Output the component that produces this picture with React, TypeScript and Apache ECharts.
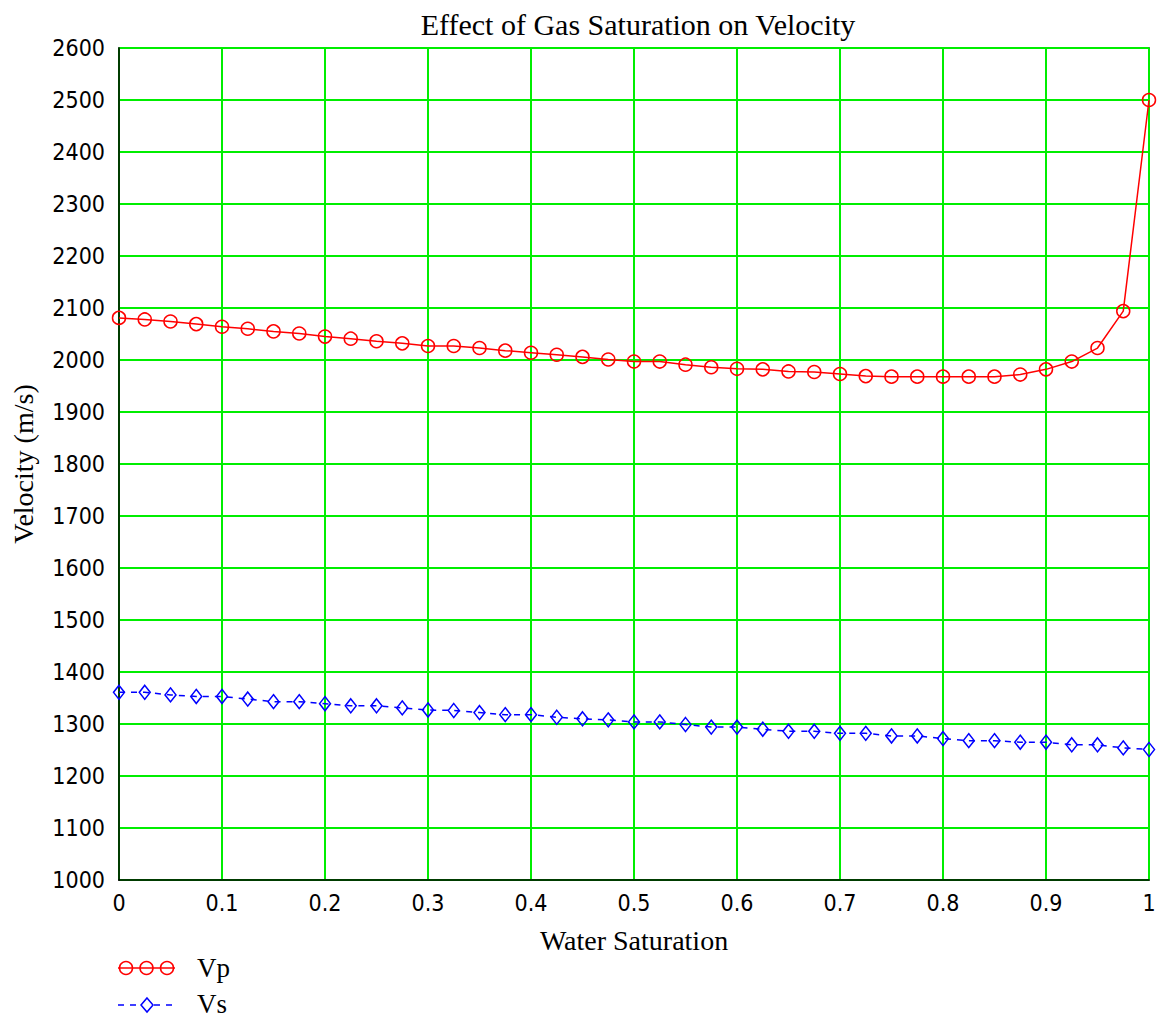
import React, { useEffect, useRef } from "react";
import * as echarts from "echarts";

const waterSat = [
  0, 0.025, 0.05, 0.075, 0.1, 0.125, 0.15, 0.175, 0.2, 0.225, 0.25, 0.275, 0.3, 0.325,
  0.35, 0.375, 0.4, 0.425, 0.45, 0.475, 0.5, 0.525, 0.55, 0.575, 0.6, 0.625, 0.65, 0.675,
  0.7, 0.725, 0.75, 0.775, 0.8, 0.825, 0.85, 0.875, 0.9, 0.925, 0.95, 0.975, 1,
];

const vp = [
  2081, 2078, 2074, 2069, 2064, 2060, 2055, 2051, 2045, 2041, 2036, 2032, 2027, 2027,
  2023, 2018, 2014, 2010, 2006, 2001, 1997, 1997, 1991, 1986, 1983, 1982, 1978, 1977,
  1973, 1969, 1968, 1968, 1968, 1968, 1968, 1972, 1982, 1997, 2023, 2094, 2500,
];

const vs = [
  1361, 1361, 1356, 1353, 1353, 1348, 1343, 1343, 1339, 1335, 1335, 1331, 1327, 1326,
  1322, 1318, 1318, 1313, 1310, 1308, 1304, 1304, 1299, 1294, 1294, 1290, 1286, 1286,
  1282, 1282, 1277, 1277, 1272, 1268, 1268, 1265, 1265, 1260, 1260, 1254, 1251,
];

const seriesNames = ["Vp", "Vs"];
const titleText = "Effect of Gas Saturation on Velocity";
const xName = "Water Saturation";
const yName = "Velocity (m/s)";

const SERIF = "'Liberation Serif', 'DejaVu Serif', serif";
const TICKFONT = "'DejaVu Sans Condensed', 'DejaVu Sans', sans-serif";
const RED = "#ff0000";
const BLUE = "#0000ff";
const GREEN = "#00ee00";

export default function App() {
  const ref = useRef<HTMLDivElement>(null);

  useEffect(() => {
    document.body.style.margin = "0";
    if (!ref.current) return;
    const chart = echarts.init(ref.current, null, { renderer: "svg" });
    const option: any = {
      animation: false,
      backgroundColor: "#ffffff",
      title: {
        text: titleText,
        left: 633,
        textAlign: "center",
        top: 4,
        textStyle: { fontFamily: SERIF, fontSize: 30, fontWeight: "normal", color: "#000" },
      },
      grid: {
        left: 119,
        right: 8,
        top: 48,
        bottom: 139,
        containLabel: false,
        outerBoundsMode: "none",
        show: true,
        borderColor: "#000",
        borderWidth: 1.5,
        backgroundColor: "transparent",
      },
      xAxis: {
        type: "value",
        min: 0,
        max: 1,
        interval: 0.1,
        name: xName,
        nameLocation: "middle",
        nameGap: 46,
        nameTextStyle: { fontFamily: SERIF, fontSize: 28, color: "#000" },
        axisLine: { show: true, lineStyle: { color: "#000", width: 1.5 } },
        axisTick: { show: false },
        axisLabel: {
          margin: 11,
          fontFamily: TICKFONT,
          fontSize: 23,
          color: "#000",
          formatter: (v: number) => String(Math.round(v * 10) / 10),
        },
        splitLine: { show: true, lineStyle: { color: GREEN, width: 2 } },
      },
      yAxis: {
        type: "value",
        min: 1000,
        max: 2600,
        interval: 100,
        name: yName,
        nameLocation: "middle",
        nameGap: 82,
        nameTextStyle: { fontFamily: SERIF, fontSize: 28, color: "#000" },
        axisLine: { show: true, lineStyle: { color: "#000", width: 1.5 } },
        axisTick: { show: false },
        axisLabel: {
          margin: 14,
          fontFamily: TICKFONT,
          fontSize: 23,
          color: "#000",
          formatter: (v: number) => String(Math.round(v)),
        },
        splitLine: { show: true, lineStyle: { color: GREEN, width: 2 } },
      },
      series: [
        {
          name: seriesNames[0],
          type: "line",
          data: waterSat.map((x, i) => [x, vp[i]]),
          symbol: "circle",
          symbolSize: 13,
          clip: true,
          lineStyle: { color: RED, width: 1.5 },
          itemStyle: { color: "rgba(0,0,0,0)", borderColor: RED, borderWidth: 1.5 },
          z: 3,
        },
        {
          name: seriesNames[1],
          type: "line",
          data: waterSat.map((x, i) => [x, vs[i]]),
          symbol: "diamond",
          symbolSize: [11, 14],
          clip: true,
          lineStyle: { color: BLUE, width: 1.5, type: [6, 6] },
          itemStyle: { color: "rgba(0,0,0,0)", borderColor: BLUE, borderWidth: 1.5 },
          z: 3,
        },
      ],
      graphic: [
        // Vp legend
        { type: "line", shape: { x1: 118, y1: 968, x2: 175, y2: 968 }, style: { stroke: RED, lineWidth: 1.5 } },
        { type: "circle", shape: { cx: 126, cy: 968, r: 6.5 }, style: { fill: "none", stroke: RED, lineWidth: 1.5 } },
        { type: "circle", shape: { cx: 146.5, cy: 968, r: 6.5 }, style: { fill: "none", stroke: RED, lineWidth: 1.5 } },
        { type: "circle", shape: { cx: 167, cy: 968, r: 6.5 }, style: { fill: "none", stroke: RED, lineWidth: 1.5 } },
        {
          type: "text",
          left: 197,
          top: 954,
          style: { text: seriesNames[0], fontFamily: SERIF, fontSize: 27, fill: "#000" },
        },
        // Vs legend
        {
          type: "line",
          shape: { x1: 118, y1: 1005, x2: 177, y2: 1005 },
          style: { stroke: BLUE, lineWidth: 1.5, lineDash: [6, 6] },
        },
        {
          type: "polygon",
          shape: { points: [[147, 998], [153, 1005], [147, 1012], [141, 1005]] },
          style: { fill: "#fff", stroke: BLUE, lineWidth: 1.5 },
        },
        {
          type: "text",
          left: 197,
          top: 990,
          style: { text: seriesNames[1], fontFamily: SERIF, fontSize: 27, fill: "#000" },
        },
      ],
    };
    chart.setOption(option);
    return () => chart.dispose();
  }, []);

  return <div ref={ref} style={{ width: 1157, height: 1019 }} />;
}
